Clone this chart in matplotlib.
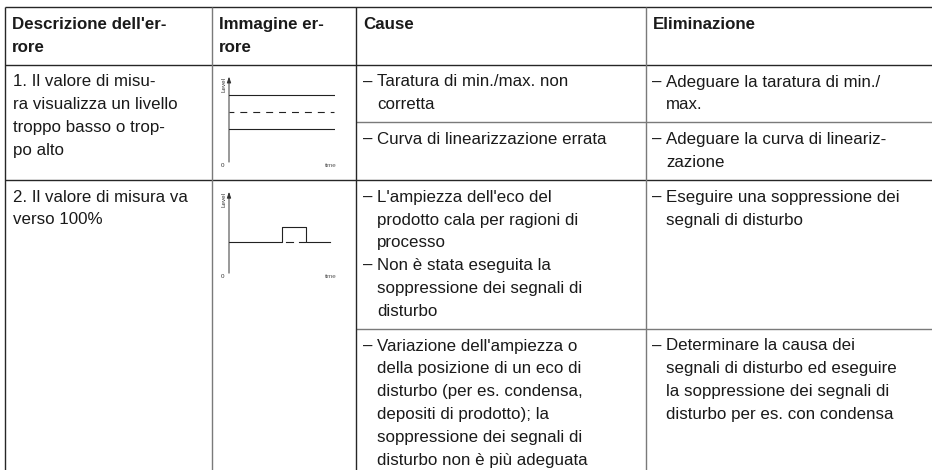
import matplotlib

matplotlib.use("Agg")
import matplotlib.pyplot as plt

plt.rcParams["font.family"] = ["Liberation Sans", "DejaVu Sans"]
plt.rcParams["lines.scale_dashes"] = False

# --- table content -------------------------------------------------------
headers = [
    ["Descrizione dell'er-", "rore"],
    ["Immagine er-", "rore"],
    ["Cause"],
    ["Eliminazione"],
]

row_descriptions = [
    ["1. Il valore di misu-", "ra visualizza un livello", "troppo basso o trop-", "po alto"],
    ["2. Il valore di misura va", "verso 100%"],
]

row_causes = [
    [
        ["Taratura di min./max. non", "corretta"],
        ["Curva di linearizzazione errata"],
    ],
    [
        ["L'ampiezza dell'eco del", "prodotto cala per ragioni di", "processo"],
        ["Non è stata eseguita la", "soppressione dei segnali di", "disturbo"],
        ["Variazione dell'ampiezza o", "della posizione di un eco di",
         "disturbo (per es. condensa,", "depositi di prodotto); la",
         "soppressione dei segnali di", "disturbo non è più adeguata"],
    ],
]

# sub-rows: which cause items share one remedy cell
row_subrows = [
    [[0], [1]],
    [[0, 1], [2]],
]

row_remedies = [
    [
        ["Adeguare la taratura di min./", "max."],
        ["Adeguare la curva di lineariz-", "zazione"],
    ],
    [
        ["Eseguire una soppressione dei", "segnali di disturbo"],
        ["Determinare la causa dei", "segnali di disturbo ed eseguire",
         "la soppressione dei segnali di", "disturbo per es. con condensa"],
    ],
]

# --- schematic diagrams (normalised 0..1 units) ---------------------------
diag1_solid_levels = [0.78, 0.37]
diag1_dashed_level = 0.57
diag1_x_end = 0.99

diag2_signal_x = [0.0, 0.50, 0.50, 0.73, 0.73, 0.95]
diag2_signal_y = [0.36, 0.36, 0.56, 0.56, 0.36, 0.36]
diag2_dash_x = [(0.535, 0.60), (0.665, 0.715)]
diag2_dash_y = 0.36

# --- layout (pixels) ------------------------------------------------------
W, H = 932, 470
col_x = [5, 212, 356, 646, W]
TOP = 7
LINE = 22.8
PAD = 6
FS = 12.2
TXT = "#1a1a1a"
DARK = "#262626"
GREY = "#7a7a7a"

fig = plt.figure(figsize=(W / 100, H / 100), dpi=100)
ax = fig.add_axes([0, 0, 1, 1])
ax.set_xlim(0, W)
ax.set_ylim(H, 0)
ax.axis("off")


def put_lines(x, y0, lines, bold=False):
    for i, s in enumerate(lines):
        ax.text(x, y0 + PAD + LINE * (i + 0.5), s, fontsize=FS, color=TXT,
                va="center", ha="left", fontweight="bold" if bold else "normal")


def put_bullet(x, y0, lines):
    ax.text(x, y0 + PAD + LINE * 0.5, "–", fontsize=FS, color=TXT, va="center")
    put_lines(x + 14, y0, lines)


def hline(y, x0, x1, color=DARK):
    ax.plot([x0, x1], [y, y], color=color, lw=1.0, solid_capstyle="butt")


# header
hline(TOP, col_x[0], W)
for c, h in enumerate(headers):
    put_lines(col_x[c] + 7, TOP, h, bold=True)
header_h = max(len(h) for h in headers) * LINE + 2 * PAD
y = TOP + header_h
hline(y, col_x[0], W)

diag_boxes = []
for r in range(len(row_descriptions)):
    row_top = y
    put_lines(col_x[0] + 8, row_top, row_descriptions[r])
    sub_top = row_top
    for s, items in enumerate(row_subrows[r]):
        cy = sub_top
        for k in items:
            put_bullet(col_x[2] + 7, cy, row_causes[r][k])
            cy += len(row_causes[r][k]) * LINE
        cause_h = cy - sub_top + 2 * PAD
        put_bullet(col_x[3] + 6, sub_top, row_remedies[r][s])
        rem_h = len(row_remedies[r][s]) * LINE + 2 * PAD
        sub_top += max(cause_h, rem_h)
        if s < len(row_subrows[r]) - 1:
            hline(sub_top, col_x[2], W, color=GREY)
    y = max(sub_top, row_top + len(row_descriptions[r]) * LINE + 2 * PAD)
    diag_boxes.append(row_top)
    if y < H:
        hline(y, col_x[0], W)

# vertical lines
for x, c in zip(col_x[:4], [DARK, GREY, DARK, GREY]):
    ax.plot([x, x], [TOP, H], color=c, lw=1.0, solid_capstyle="butt")


def diagram_axes(row_top, height):
    left, bottom_px = 229, row_top + 12 + height
    rect = [left / W, 1 - bottom_px / H, 106 / W, height / H]
    d = fig.add_axes(rect)
    d.set_xlim(0, 1)
    d.set_ylim(0, 1)
    d.axis("off")
    arrow = dict(arrowstyle="-|>,head_length=0.35,head_width=0.12", color="#333", lw=0.7,
                 shrinkA=0, shrinkB=0)
    d.annotate("", xy=(0, 1.0), xytext=(0, -0.03), arrowprops=arrow)
    d.annotate("", xy=(1.02, 0), xytext=(-0.03, 0), arrowprops=dict(arrow, color="#666"))
    d.text(-0.06, -0.04, "0", fontsize=4.5, color="#333", ha="center", va="top")
    d.text(0.96, -0.04, "time", fontsize=4.5, color="#555", ha="center", va="top")
    d.text(-0.05, 0.9, "Level", fontsize=4.5, color="#333", rotation=90, ha="center", va="center")
    return d


d1 = diagram_axes(diag_boxes[0], 83)
for lvl in diag1_solid_levels:
    d1.plot([0, diag1_x_end], [lvl, lvl], color="#222", lw=0.8)
d1.plot([0, diag1_x_end], [diag1_dashed_level] * 2, color="#222", lw=0.8,
        linestyle=(1.5, (5.0, 4.3)))

d2 = diagram_axes(diag_boxes[1], 79)
d2.plot(diag2_signal_x, diag2_signal_y, color="#222", lw=0.8)
for x0, x1 in diag2_dash_x:
    d2.plot([x0, x1], [diag2_dash_y] * 2, color="#222", lw=0.8)

fig.savefig("out.png", dpi=100)
